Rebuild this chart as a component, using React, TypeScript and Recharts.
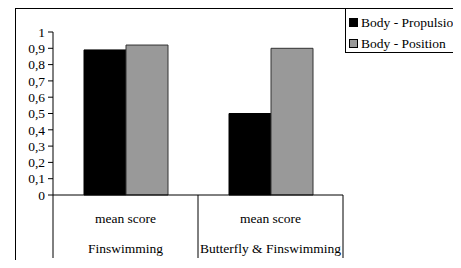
import { Bar, BarChart, XAxis, YAxis } from 'recharts';

const groups = ['Finswimming', 'Butterfly & Finswimming'];
const measure = ['mean score', 'mean score'];
const propulsion = [0.89, 0.5];
const position = [0.92, 0.9];
const yTicks = [0, 0.1, 0.2, 0.3, 0.4, 0.5, 0.6, 0.7, 0.8, 0.9, 1];

const data = groups.map((g, i) => ({
	group: g,
	measure: measure[i],
	propulsion: propulsion[i],
	position: position[i],
}));

const series = [
	{ key: 'propulsion', name: 'Body - Propulsion', fill: '#000000', stroke: '#000000' },
	{ key: 'position', name: 'Body - Position', fill: '#999999', stroke: '#333333' },
];

const FONT = '"Liberation Serif", "Times New Roman", Times, serif';
const FS = 13.5;

const fmt = (v: number) => (v === 0 || v === 1 ? String(v) : v.toFixed(1).replace('.', ','));

const GroupTick = (props: any) => {
	const { x, y, payload, index } = props;
	const half = payload.offset ?? 73;
	const d = data[index];
	return (
		<g>
			<line x1={x - half} y1={y} x2={x - half} y2={y + 63} stroke='#000' />
			{index === data.length - 1 && (
				<line x1={x + half} y1={y} x2={x + half} y2={y + 63} stroke='#000' />
			)}
			<text x={x} y={y + 28} textAnchor='middle' fontSize={FS} fontFamily={FONT} fill='#000'>
				{d ? d.measure : ''}
			</text>
			<text x={x} y={y + 58} textAnchor='middle' fontSize={FS} fontFamily={FONT} fill='#000'>
				{payload.value}
			</text>
		</g>
	);
};

export default function App() {
	return (
		<div style={{ position: 'relative', margin: -8, width: 461, height: 268, overflow: 'hidden', background: '#fff' }}>
			<div
				style={{
					position: 'absolute',
					left: 15,
					top: 8,
					width: 500,
					height: 300,
					border: '1px solid #000',
				}}
			/>
			<div style={{ position: 'absolute', left: 0, top: 0 }}>
				<BarChart
					width={461}
					height={268}
					data={data}
					margin={{ top: 32, right: 118, bottom: 0, left: 0 }}
					barSize={42}
					barGap={0}
				>
					<XAxis
						dataKey='group'
						height={73}
						axisLine={{ stroke: '#000' }}
						tickLine={false}
						tickSize={0}
						tickMargin={0}
						interval={0}
						tick={<GroupTick />}
					/>
					<YAxis
						width={53}
						domain={[0, 1]}
						ticks={yTicks}
						interval={0}
						tickFormatter={fmt}
						axisLine={{ stroke: '#000' }}
						tickLine={{ stroke: '#000' }}
						tickSize={5}
						tickMargin={3}
						tick={{ fill: '#000', fontSize: FS, fontFamily: FONT }}
					/>
					{series.map((s) => (
						<Bar
							key={s.key}
							dataKey={s.key}
							name={s.name}
							fill={s.fill}
							stroke={s.stroke}
							isAnimationActive={false}
						/>
					))}
				</BarChart>
			</div>
			<div
				style={{
					position: 'absolute',
					left: 345,
					top: 8,
					width: 130,
					height: 45,
					border: '1px solid #000',
					background: '#fff',
					fontFamily: FONT,
					fontSize: FS,
					color: '#000',
					boxSizing: 'border-box',
				}}
			>
				{series.map((s, i) => (
					<div
						key={s.key}
						style={{ position: 'absolute', left: 3, top: 6 + i * 21, whiteSpace: 'nowrap', lineHeight: '15px' }}
					>
						<span
							style={{
								display: 'inline-block',
								width: 9,
								height: 9,
								background: s.fill,
								border: '1px solid #000',
								boxSizing: 'border-box',
								marginRight: 3,
							}}
						/>
						{s.name}
					</div>
				))}
			</div>
		</div>
	);
}
